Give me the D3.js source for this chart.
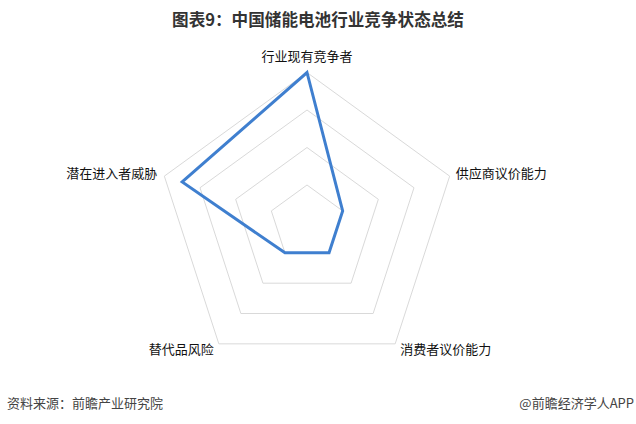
<!DOCTYPE html>
<html><head><meta charset="utf-8">
<script src="https://cdn.jsdelivr.net/npm/d3@7"></script>
<style>body{margin:0;background:#fff;} svg{display:block;font-family:"Noto Sans CJK SC","Noto Sans",sans-serif;}</style>
</head><body>
<svg id="c" width="636" height="424"></svg>
<script>
const titleText = "图表9：中国储能电池行业竞争状态总结";
const categories = ["行业现有竞争者","供应商议价能力","消费者议价能力","替代品风险","潜在进入者威胁"];
const values = [4, 1, 1, 1, 3.5];
const gridLevels = [1, 2, 3, 4];
const maxValue = 4;
const sourceText = "资料来源：前瞻产业研究院";
const brandText = "@前瞻经济学人APP";

const svg = d3.select("#c");
const cx = 307, cy = 222.5, R = 150;
const r = d3.scaleLinear().domain([0, maxValue]).range([0, R]);
const n = categories.length;
const ang = i => i * 2 * Math.PI / n;
const pt = (i, v) => [cx + r(v) * Math.sin(ang(i)), cy - r(v) * Math.cos(ang(i))];

svg.append("text").attr("x", 318).attr("y", 26).attr("text-anchor", "middle")
  .attr("font-size", 16.6).attr("font-weight", "bold").attr("fill", "#333").text(titleText);

const line = d3.line().curve(d3.curveLinearClosed);
svg.append("g").selectAll("path").data(gridLevels).join("path")
  .attr("d", lv => line(categories.map((c, i) => pt(i, lv))))
  .attr("fill", "none").attr("stroke", "#d9d9d9").attr("stroke-width", 1);

svg.append("path").attr("d", line(values.map((v, i) => pt(i, v))))
  .attr("fill", "none").attr("stroke", "#3f7fcf").attr("stroke-width", 3).attr("stroke-linejoin", "miter");

const lab = svg.append("g").attr("font-size", 13).attr("fill", "#111");
categories.forEach((c, i) => {
  const [x, y] = pt(i, maxValue);
  let tx = x, ty = y, anchor = "middle";
  if (i === 0) { ty = y - 12; }
  else if (i === 1) { tx = x + 6; ty = y + 2; anchor = "start"; }
  else if (i === 2) { tx = x + 5; ty = y + 10; anchor = "start"; }
  else if (i === 3) { tx = x - 5; ty = y + 10; anchor = "end"; }
  else { tx = x - 7; ty = y + 2; anchor = "end"; }
  lab.append("text").attr("x", tx).attr("y", ty).attr("text-anchor", anchor).text(c);
});

svg.append("text").attr("x", 7).attr("y", 408).attr("font-size", 13).attr("fill", "#444").text(sourceText);
svg.append("text").attr("x", 634).attr("y", 408).attr("text-anchor", "end").attr("font-size", 13).attr("fill", "#444").text(brandText);
</script>
</body></html>
